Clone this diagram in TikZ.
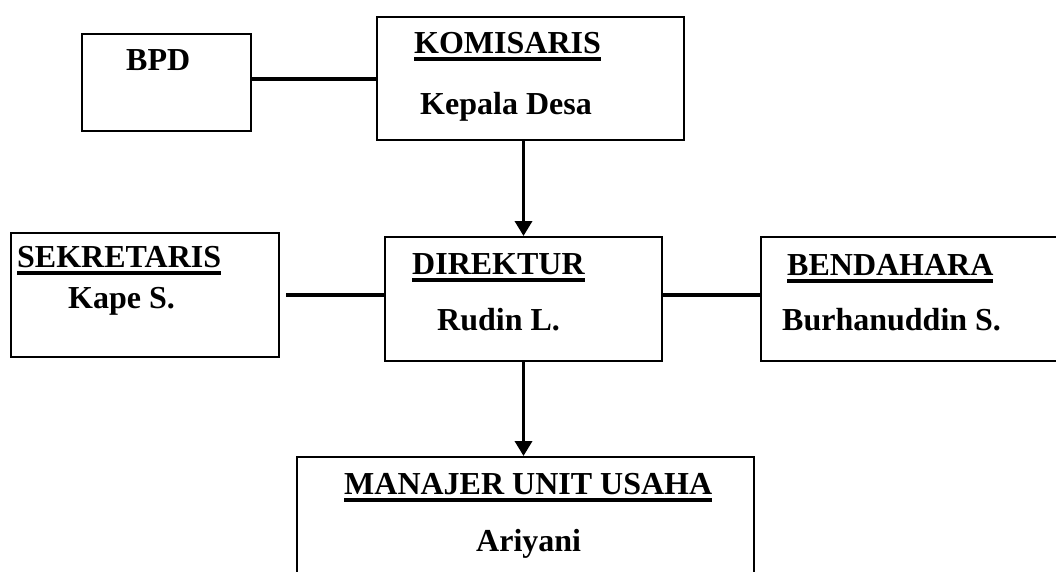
\documentclass[tikz,border=0pt]{standalone}
\usepackage{fontspec}
\setmainfont{Liberation Serif}
\usetikzlibrary{arrows.meta}
\newcommand\myul[1]{\setbox0\hbox{#1}\rlap{\rule[-7.5pt]{\wd0}{3.2pt}}\box0}
\tikzset{
  orgbox/.style={draw, line width=2pt, inner sep=0pt, anchor=north west},
  lbl/.style={inner sep=0pt, anchor=base west, font=\fontsize{32}{38}\selectfont\bfseries},
  link/.style={line width=4pt},
  arr/.style={line width=3.5pt, -{Triangle[width=17pt,length=15pt]}}
}
\begin{document}
\begin{tikzpicture}[x=1pt,y=-1pt]
\useasboundingbox (0,0) rectangle (1056,571);
\clip (0,0) rectangle (1056,571);
\fill[white] (0,0) rectangle (1056,571);
% boxes
\node[orgbox, minimum width=169pt, minimum height=97pt] (bpd) at (81,33) {};
\node[orgbox, minimum width=307pt, minimum height=123pt] (kom) at (376,16) {};
\node[orgbox, minimum width=268pt, minimum height=124pt] (sek) at (10,232) {};
\node[orgbox, minimum width=277pt, minimum height=124pt] (dir) at (384,236) {};
\node[orgbox, minimum width=320pt, minimum height=124pt] (ben) at (760,236) {};
\node[orgbox, minimum width=457pt, minimum height=150pt] (man) at (296,456) {};
% texts
\node[lbl] (tbpd) at (126,70) {BPD};
\node[lbl] (tkom) at (414,53) {\myul{KOMISARIS}};
\node[lbl] (tkd) at (420,114) {Kepala Desa};
\node[lbl] (tsek) at (17,267) {\myul{SEKRETARIS}};
\node[lbl] (tkape) at (68,308) {Kape S.};
\node[lbl] (tdir) at (412,274) {\myul{DIREKTUR}};
\node[lbl] (trud) at (437,330) {Rudin L.};
\node[lbl] (tben) at (787,275) {\myul{BENDAHARA}};
\node[lbl] (tbur) at (782,330) {Burhanuddin S.};
\node[lbl] (tman) at (344,494) {\myul{MANAJER UNIT USAHA}};
\node[lbl] (tari) at (476,551) {Ariyani};
% connectors
\draw[link] (bpd.east |- kom.west) -- (kom.west);
\draw[link] ([xshift=6pt]sek.east) -- (sek.east -| dir.west);
\draw[link] ([yshift=4.5pt]dir.east) -- ([yshift=4.5pt]ben.west);
\draw[arr] (kom.south -| dir.north) -- (dir.north);
\draw[arr] (dir.south) -- (dir.south |- man.north);
\end{tikzpicture}
\end{document}
